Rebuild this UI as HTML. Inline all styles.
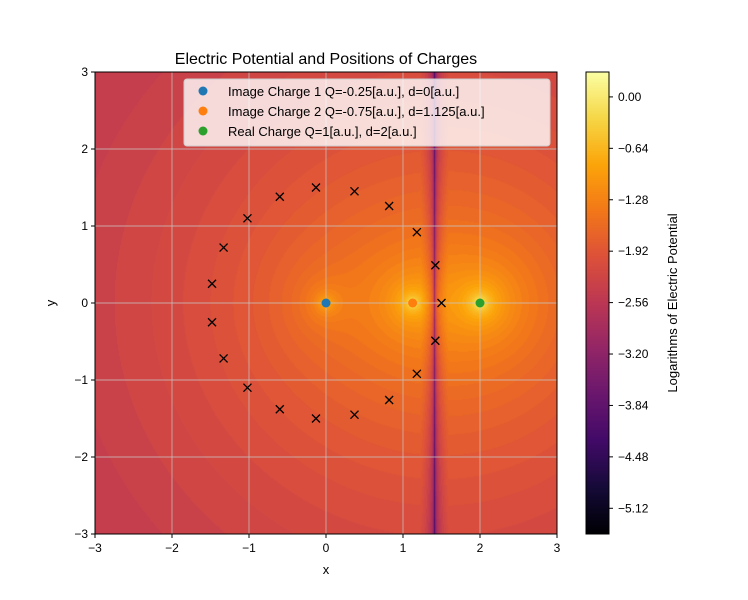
<!DOCTYPE html>
<html><head><meta charset="utf-8"><style>
body{margin:0;background:#fff;font-family:"Liberation Sans",sans-serif}
#wrap{position:relative;width:748px;height:600px}
canvas{position:absolute}
svg{position:absolute;left:0;top:0}
</style></head><body>
<div id="wrap">
<canvas id="hm" width="462" height="462" style="left:95px;top:72px"></canvas>
<canvas id="cb" width="23" height="462" style="left:586px;top:72px"></canvas>
<svg id="ov" width="748" height="600"></svg>
</div>
<script>
const chargeX=[0,1.125,2];
const chargeQ=[-0.25,-0.75,1];
const chargeLabels=["Image Charge 1 Q=-0.25[a.u.], d=0[a.u.]","Image Charge 2 Q=-0.75[a.u.], d=1.125[a.u.]","Real Charge Q=1[a.u.], d=2[a.u.]"];
const chargeColors=["#1f77b4","#ff7f0e","#2ca02c"];
const markX=[-0.13,0.37,0.82,1.18,1.42,1.5,1.42,1.18,0.82,0.37,-0.13,-0.6,-1.02,-1.33,-1.48,-1.48,-1.33,-1.02,-0.6];
const markY=[1.5,1.45,1.26,0.92,0.49,0,-0.49,-0.92,-1.26,-1.45,-1.5,-1.38,-1.1,-0.72,-0.25,0.25,0.72,1.1,1.38];
const xTicks=[-3,-2,-1,0,1,2,3];
const yTicks=[-3,-2,-1,0,1,2,3];
const cbTicks=[0.00,-0.64,-1.28,-1.92,-2.56,-3.20,-3.84,-4.48,-5.12];
const VMIN=-5.44,VMAX=0.31;
const X0=95,X1=557,Y0=72,Y1=534;
const sx=v=>X0+(v+3)/6*(X1-X0);
const sy=v=>Y1-(v+3)/6*(Y1-Y0);
const inf=[[0,0,0,4],[0.1,22,11,57],[0.2,66,10,104],[0.3,106,23,110],[0.4,147,38,103],[0.5,188,55,84],[0.6,221,81,58],[0.7,243,120,25],[0.8,252,165,10],[0.9,246,215,70],[1,252,255,164]];
function cmap(t){t=Math.max(0,Math.min(1,t));for(let i=1;i<inf.length;i++){if(t<=inf[i][0]){const a=inf[i-1],b=inf[i],f=(t-a[0])/(b[0]-a[0]);return [a[1]+f*(b[1]-a[1]),a[2]+f*(b[2]-a[2]),a[3]+f*(b[3]-a[3])];}}return inf[10].slice(1);}
function field(x,y){let s=0;for(let i=0;i<chargeX.length;i++){const r=Math.hypot(x-chargeX[i],y)+0.02;s+=Math.abs(chargeQ[i])/r;}
let v=1.4*Math.log10(s)-1.85;const d=Math.abs(x-1.41);if(d<0.18)v+=1.0*Math.log10(d/0.18+0.004);return v;}
const hc=document.getElementById('hm').getContext('2d');const img=hc.createImageData(462,462);
for(let j=0;j<462;j++)for(let i=0;i<462;i++){const x=-3+(i+0.5)/462*6,y=3-(j+0.5)/462*6;let v=field(x,y);v=Math.round(v/0.08)*0.08;const c=cmap((v-VMIN)/(VMAX-VMIN));const k=(j*462+i)*4;img.data[k]=c[0];img.data[k+1]=c[1];img.data[k+2]=c[2];img.data[k+3]=255;}
hc.putImageData(img,0,0);
const cc=document.getElementById('cb').getContext('2d');
for(let j=0;j<462;j++){const c=cmap(1-j/461);cc.fillStyle=`rgb(${c[0]|0},${c[1]|0},${c[2]|0})`;cc.fillRect(0,j,23,1);}
const ov=document.getElementById('ov');const NS='http://www.w3.org/2000/svg';
function el(t,a,txt){const e=document.createElementNS(NS,t);for(const k in a)e.setAttribute(k,a[k]);if(txt!==undefined)e.textContent=txt;ov.appendChild(e);return e;}
xTicks.forEach(v=>{const g=el('line',{x1:sx(v),x2:sx(v),y1:Y0,y2:Y1,stroke:'#c8c8c8','stroke-width':0.7});
el('line',{x1:sx(v),x2:sx(v),y1:Y1,y2:Y1+4,stroke:'#000'});const t=el('text',{x:sx(v),y:Y1+18,'text-anchor':'middle','font-size':12},String(v).replace('-','\u2212'));});
yTicks.forEach(v=>{const g=el('line',{x1:X0,x2:X1,y1:sy(v),y2:sy(v),stroke:'#c8c8c8','stroke-width':0.7});
el('line',{x1:X0-4,x2:X0,y1:sy(v),y2:sy(v),stroke:'#000'});const t=el('text',{x:X0-7,y:sy(v)+4,'text-anchor':'end','font-size':12},String(v).replace('-','\u2212'));});
el('rect',{x:X0,y:Y0,width:X1-X0,height:Y1-Y0,fill:'none',stroke:'#000','stroke-width':1});
markX.forEach((mx,i)=>{const x=sx(mx),y=sy(markY[i]);const p=el('path',{d:`M${x-4},${y-4}L${x+4},${y+4}M${x-4},${y+4}L${x+4},${y-4}`,stroke:'#000','stroke-width':1.3});});
chargeX.forEach((cx,i)=>{const c=el('circle',{cx:sx(cx),cy:sy(0),r:4.5,fill:chargeColors[i]});});
const lg=el('rect',{x:184,y:79,width:366,height:67,rx:3,fill:'rgba(255,255,255,0.8)',stroke:'#ccc'});
chargeLabels.forEach((l,i)=>{const y=91+i*20;el('circle',{cx:203,cy:y,r:4.5,fill:chargeColors[i]});const t=el('text',{x:228,y:y+5,'font-size':13},l);});
const tt=el('text',{x:326,y:64,'text-anchor':'middle','font-size':16},'Electric Potential and Positions of Charges');
const xl=el('text',{x:326,y:574,'text-anchor':'middle','font-size':13},'x');
const yl=el('text',{x:0,y:0,'text-anchor':'middle','font-size':13,transform:'translate(55,303) rotate(-90)'},'y');
el('rect',{x:586,y:72,width:23,height:462,fill:'none',stroke:'#000','stroke-width':1});
cbTicks.forEach(v=>{const y=Y0+(VMAX-v)/(VMAX-VMIN)*462;el('line',{x1:609,x2:613,y1:y,y2:y,stroke:'#000'});const t=el('text',{x:618,y:y+4,'font-size':12},v.toFixed(2).replace('-','\u2212'));});
const cl=el('text',{x:0,y:0,'text-anchor':'middle','font-size':13,transform:'translate(677,303) rotate(-90)'},'Logarithms of Electric Potential');
</script>
</body></html>
